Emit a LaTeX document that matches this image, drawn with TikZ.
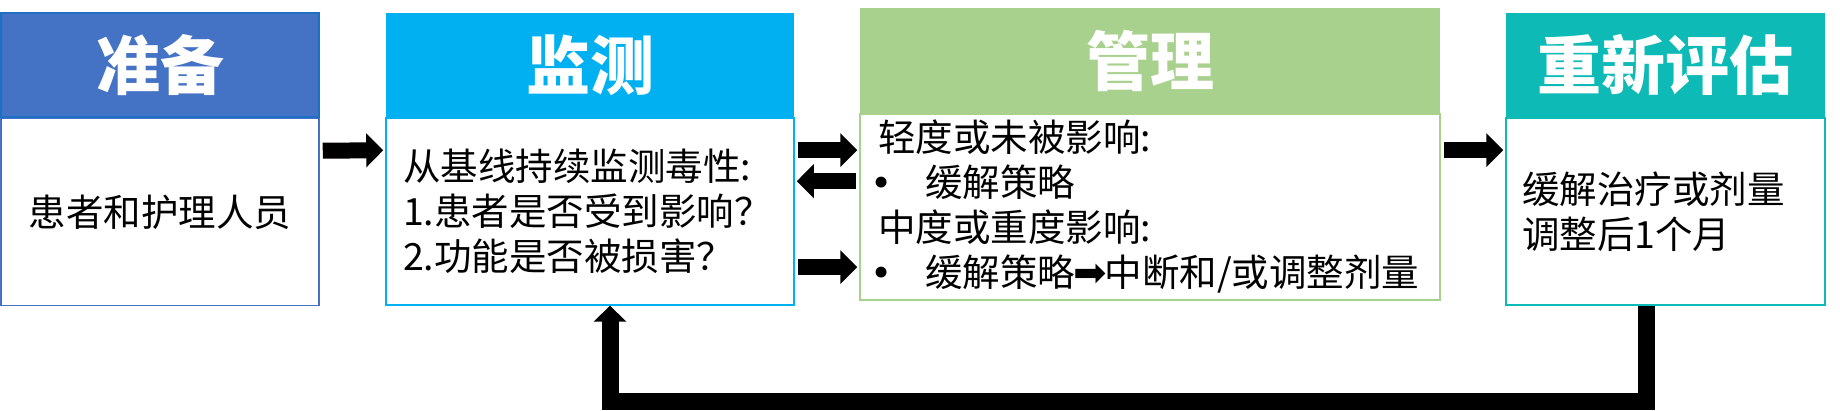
\documentclass[tikz,border=0pt]{standalone}
\usepackage{fontspec}
\setmainfont{Noto Sans CJK SC}
\newfontfamily\symfont{DejaVu Sans}
\usetikzlibrary{arrows.meta,positioning}

\definecolor{prepblue}{HTML}{4472C4}
\definecolor{prepedge}{HTML}{1F6FC5}
\definecolor{moncyan}{HTML}{00B0F0}
\definecolor{mangreen}{HTML}{A9D18E}
\definecolor{reteal}{HTML}{0DBAB6}

\newcommand{\bulletmark}{\makebox[47pt][l]{\hspace{-8pt}\symfont •}}

\begin{document}
\begin{tikzpicture}[x=1pt,y=-1pt,
		head node/.style={rectangle,inner sep=0pt,minimum height=104pt,text=white,font=\fontsize{64}{70}\selectfont\bfseries},
		body node/.style={rectangle,draw,line width=1.5pt,inner ysep=0pt,minimum height=187pt,align=left,font=\fontsize{37.5}{45}\selectfont},
		big arrow/.style={line width=16pt,-{Triangle[length=17pt,width=33pt]},shorten <=3pt,shorten >=2pt},
		back arrow/.style={line width=17pt,-{Triangle[length=16pt,width=32pt]}}]
	
	\useasboundingbox (0,0) rectangle (1840,410);
	
	% headers
	\node[head node,fill=prepblue,draw=prepedge,line width=1.5pt,minimum width=318pt] (prepHead) at (160,65) {准备};
	\node[head node,fill=moncyan,minimum width=408pt] (monHead) at (590,65) {监测};
	\node[head node,fill=mangreen,minimum width=580pt,minimum height=105pt] (manHead) at (1150,60.5) {管理};
	\node[head node,fill=reteal,minimum width=319pt] (reHead) at (1665.5,65) {重新评估};
	
	% bodies
	\node[body node,draw=prepblue,minimum width=318pt,align=center] (prepBody) [below=0pt of prepHead] {患者和护理人员};
	\node[body node,draw=moncyan,inner xsep=17pt,text width=374pt] (monBody) [below=0pt of monHead]
		{从基线持续监测毒性:\\1.患者是否受到影响？\\2.功能是否被损害？};
	\node[body node,draw=mangreen,inner xsep=18pt,text width=544pt,minimum height=186pt] (manBody) [below=0pt of manHead]
		{轻度或未被影响:\\\bulletmark 缓解策略\\中度或重度影响:\\\bulletmark 缓解策略\hspace{-2pt}{\symfont\fontsize{40}{45}\selectfont ➡}\hspace{-2pt}中断和/或调整剂量};
	\node[body node,draw=reteal,inner xsep=16pt,text width=287pt] (reBody) [below=0pt of reHead]
		{缓解治疗或剂量\\调整后1个月};
	
	% flow
	\draw[big arrow] ([yshift=-33pt]prepBody.north east) -- ([yshift=-33pt]monBody.north west);
	\draw[big arrow] ([yshift=-33pt]monBody.north east) -- ([yshift=-37pt]manBody.north west);
	\draw[big arrow] ([yshift=-68pt]manBody.north west) -- ([yshift=-64pt]monBody.north east);
	\draw[big arrow] ([yshift=-150pt]monBody.north east) -- ([yshift=-154pt]manBody.north west);
	\draw[big arrow] ([yshift=-37pt]manBody.north east) -- ([yshift=-33pt]reBody.north west);
	
	% loop back
	\coordinate (loop) at (0,401.5);
	\coordinate (reOut) at ([xshift=-19pt]reBody.south);
	\coordinate (monIn) at ([xshift=20pt]monBody.south);
	\draw[back arrow] (reOut) -- (reOut |- loop) -| (monIn);
\end{tikzpicture}
\end{document}
